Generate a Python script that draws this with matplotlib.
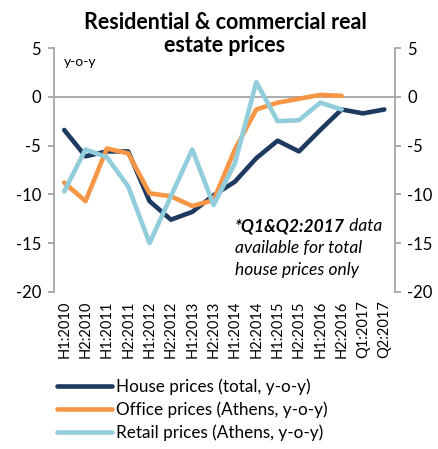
import numpy as np
import matplotlib.pyplot as plt

plt.rcParams['font.family'] = ['Lato', 'DejaVu Sans']

# half-year / quarter periods
periods = ['H1:2010', 'H2:2010', 'H1:2011', 'H2:2011', 'H1:2012', 'H2:2012',
           'H1:2013', 'H2:2013', 'H1:2014', 'H2:2014', 'H1:2015', 'H2:2015',
           'H1:2016', 'H2:2016', 'Q1:2017', 'Q2:2017']

house = [-3.4, -6.1, -5.6, -5.6, -10.7, -12.6, -11.8, -10.1,
         -8.7, -6.3, -4.5, -5.6, -3.4, -1.3, -1.7, -1.3]
office = [-8.8, -10.7, -5.3, -5.8, -9.9, -10.2, -11.2, -10.6,
          -5.4, -1.3, -0.6, -0.2, 0.2, 0.1]
retail = [-9.7, -5.4, -6.2, -9.2, -15.0, -10.2, -5.4, -11.1,
          -6.8, 1.5, -2.5, -2.4, -0.6, -1.3]

yticks = [5, 0, -5, -10, -15, -20]

c_house = '#1F3A60'
c_office = '#F79646'
c_retail = '#92CDDC'
grey = '#A6A6A6'

W, H = 438, 449
fig = plt.figure(figsize=(W / 100, H / 100), dpi=100)
ax = fig.add_axes([0.1222, 0.350, 0.7796, 0.543])

x = np.arange(len(periods))
ax.axhline(0, color=grey, lw=1.3, zorder=1)
ax.plot(x[:len(house)], house, color=c_house, lw=3.3, label='House prices (total, y-o-y)',
        solid_capstyle='round', zorder=3)
ax.plot(x[:len(office)], office, color=c_office, lw=3.3, label='Office prices (Athens, y-o-y)',
        solid_capstyle='round', zorder=3)
ax.plot(x[:len(retail)], retail, color=c_retail, lw=3.3, label='Retail prices (Athens, y-o-y)',
        solid_capstyle='round', zorder=4)

ax.set_xlim(-0.5, len(periods) - 0.5)
ax.set_ylim(-20, 5)
ax.set_yticks(yticks)
ax.set_yticklabels([str(v) for v in yticks])
ax.tick_params(axis='y', which='both', length=4, width=1.3, color=grey,
               labelsize=12, labelright=True, right=True, pad=5)
ax.set_xticks(x)
ax.set_xticklabels(periods, rotation=90, fontsize=10.5)
ax.tick_params(axis='x', length=0, pad=6)

for s in ['top', 'bottom']:
    ax.spines[s].set_visible(False)
for s in ['left', 'right']:
    ax.spines[s].set_color(grey)
    ax.spines[s].set_linewidth(1.3)

fig.text(225 / W, 1 - 34 / H, 'Residential & commercial real\nestate prices', ha='center',
         va='center', fontsize=15.5, fontweight='bold', linespacing=1.1)
fig.text(64 / W, 1 - 62 / H, 'y-o-y', fontsize=10, va='center')

# note on the missing 2017 data
t1 = fig.text(235 / W, 1 - 226 / H, '*Q1&Q2:2017', fontsize=12.5,
              fontweight='bold', fontstyle='italic', va='center')
ax.annotate(' data', xy=(1, 0.5), xycoords=t1, va='center', fontsize=12.5,
            fontstyle='italic')
fig.text(235 / W, 1 - 248 / H, 'available for total', fontsize=12.5,
         fontstyle='italic', va='center')
fig.text(235 / W, 1 - 270 / H, 'house prices only', fontsize=12.5,
         fontstyle='italic', va='center')

fig.legend(loc='upper left', bbox_to_anchor=(57 / W, 1 - 378 / H), frameon=False,
           fontsize=12.3, handlelength=3.2, handletextpad=0.25, labelspacing=0.4,
           borderaxespad=0, borderpad=0)

fig.savefig('out.png', dpi=100)
